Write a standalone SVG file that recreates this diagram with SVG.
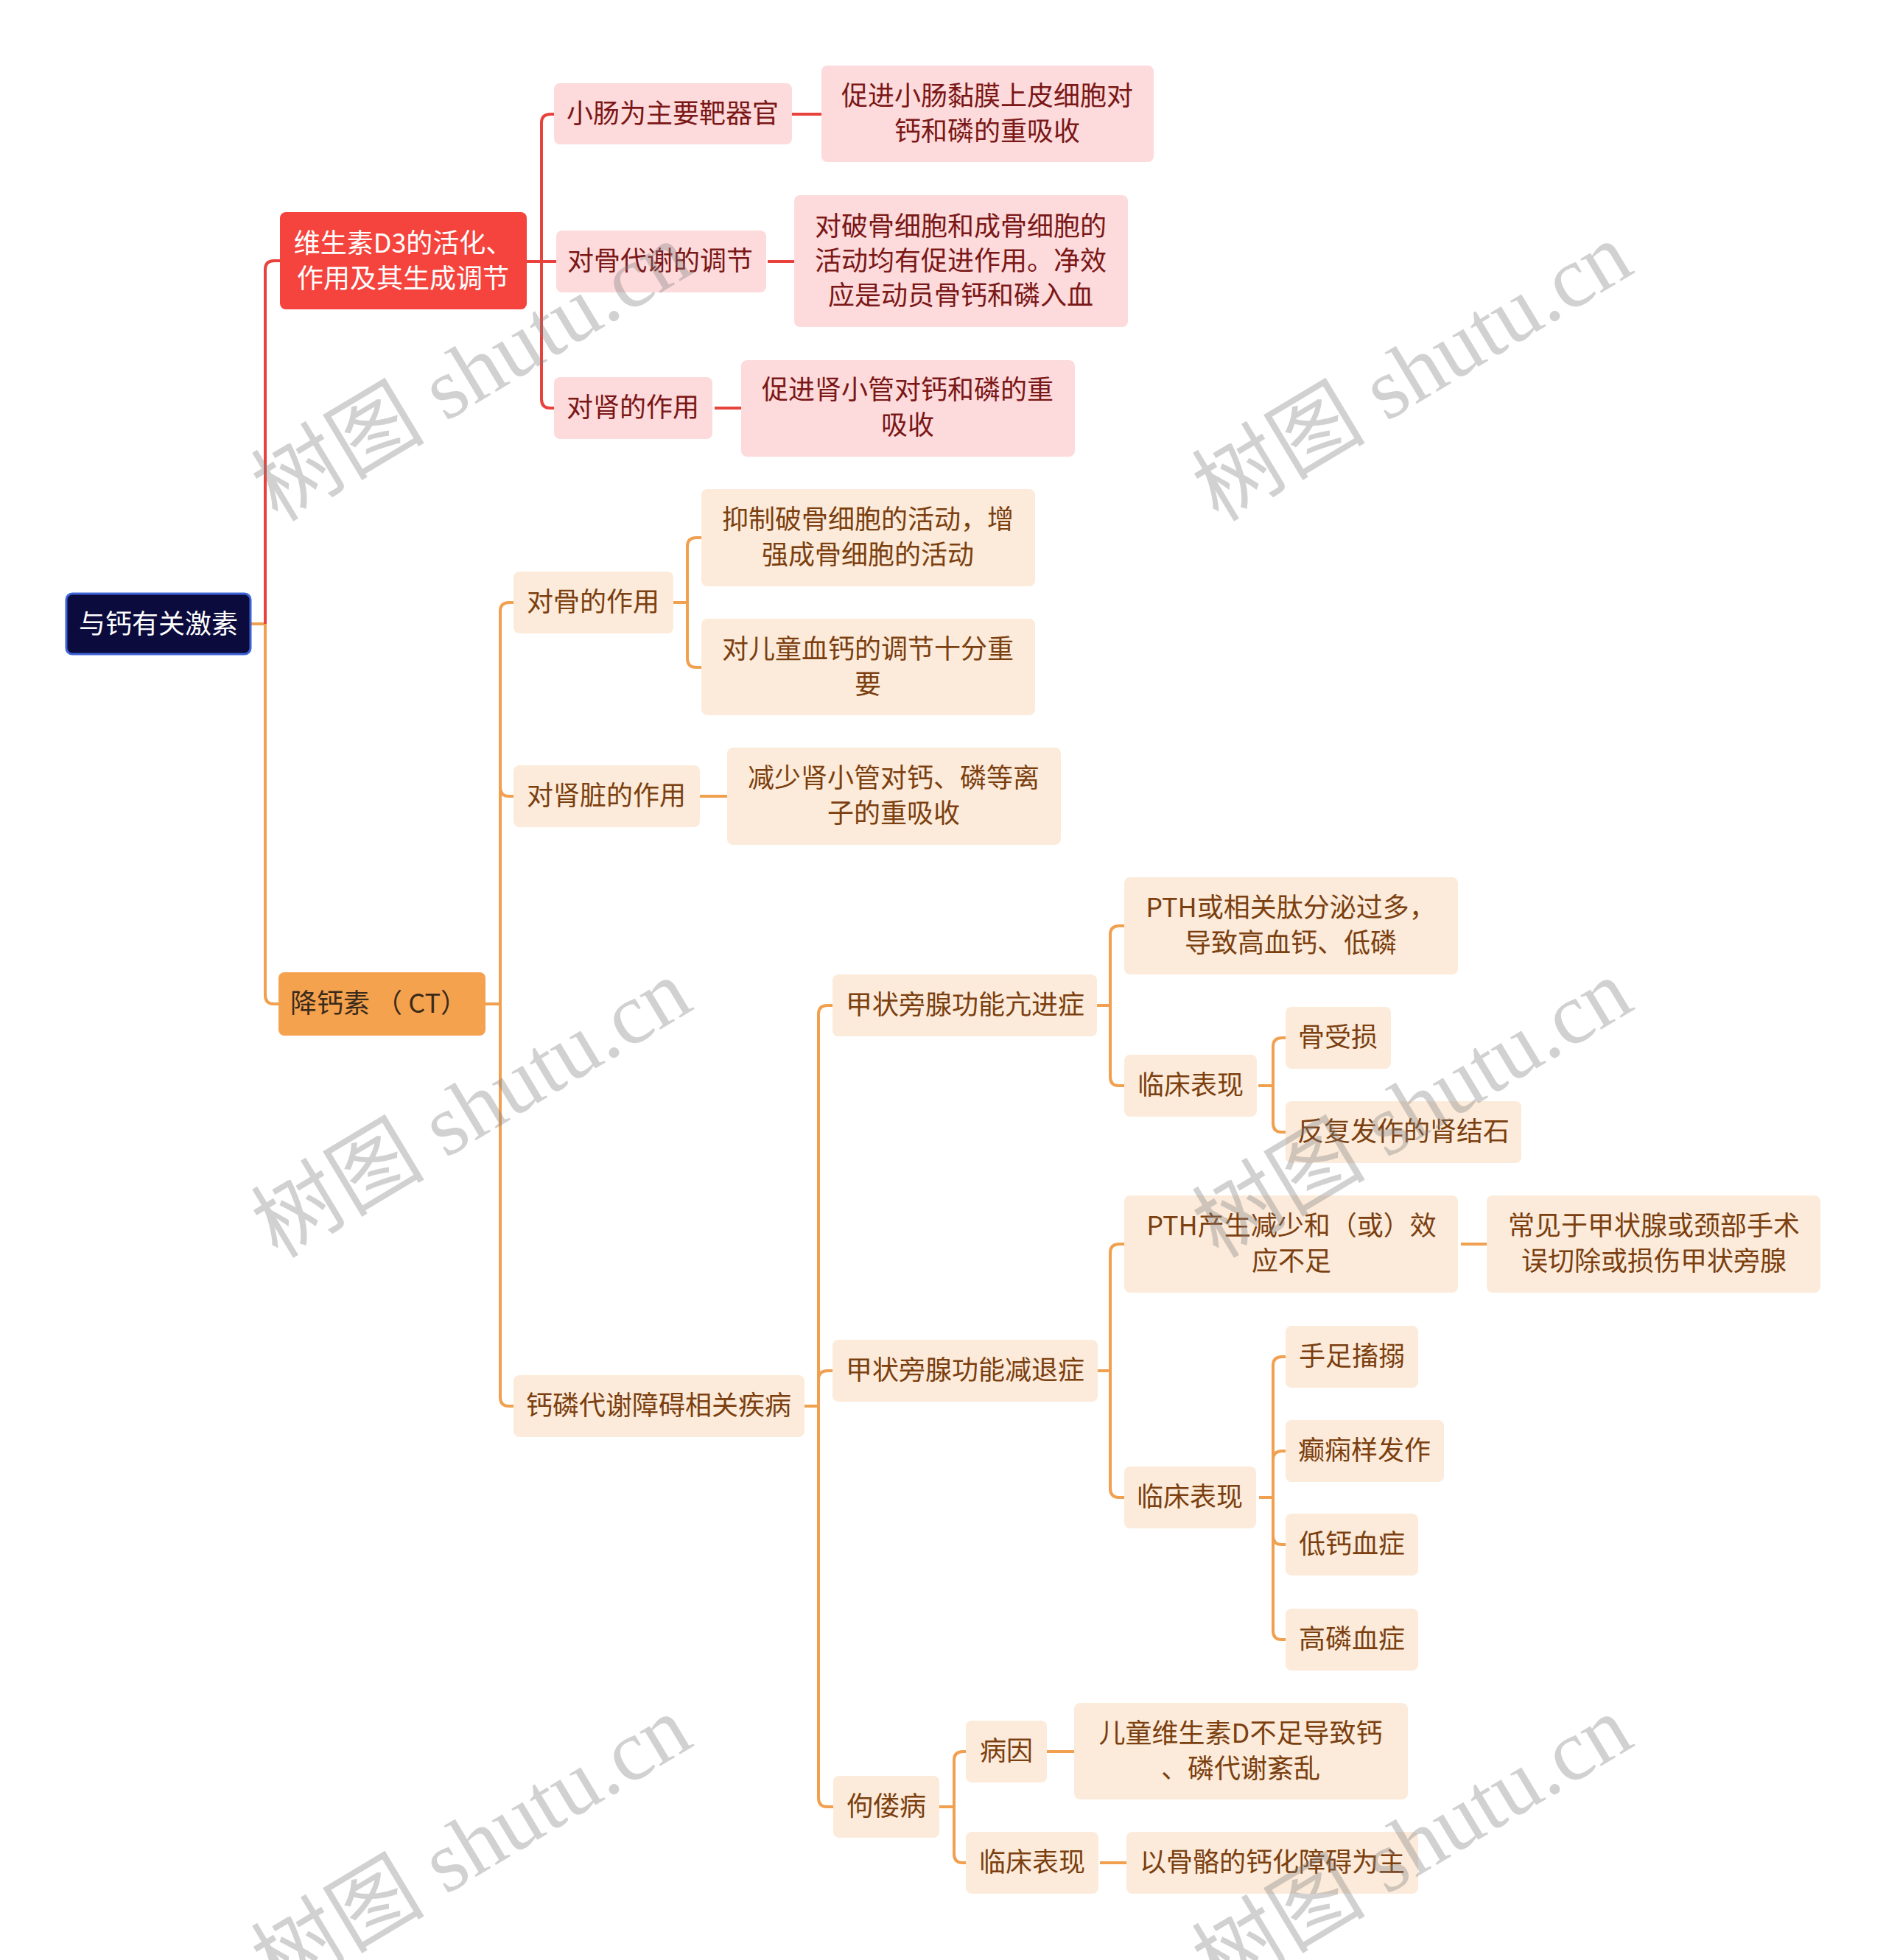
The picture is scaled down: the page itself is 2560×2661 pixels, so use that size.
<svg xmlns="http://www.w3.org/2000/svg" width="2560" height="2661" viewBox="0 0 2560 2661">
<style>
text{font-family:"Noto Sans CJK SC","Noto Sans",sans-serif;font-size:36px;text-anchor:middle}
.root rect{fill:#0b0b3d;stroke:#3d63d6;stroke-width:3}
.root text{fill:#ffffff}
.l1r rect{fill:#f5443d}
.l1r text{fill:#ffffff}
.l1o rect{fill:#f5a24f}
.l1o text{fill:#3a2a1a}
.r rect{fill:#fddadb}
.r text{fill:#7a1717}
.o rect{fill:#fcebda}
.o text{fill:#7b3f10}
.cr{fill:none;stroke:#e8423d;stroke-width:4}
.co{fill:none;stroke:#f0a04e;stroke-width:4}
.wm text{font-family:"Liberation Serif","Noto Sans CJK SC",serif;font-size:118px;fill:#808080;fill-opacity:0.36}
</style>
<rect width="2560" height="2661" fill="#ffffff"/>
<g id="connectors">
<path class="co" d="M340,847 H360 V1351 Q360,1363 372,1363 H378"/>
<path class="cr" d="M360,847 V366 Q360,354 372,354 H380"/>
<path class="cr" d="M715,355 H755"/>
<path class="cr" d="M735,355 V167 Q735,155 747,155 H752"/>
<path class="cr" d="M735,355 V542 Q735,554 747,554 H755"/>
<path class="cr" d="M1075,155 H1115"/>
<path class="cr" d="M1042,355 H1080"/>
<path class="cr" d="M970,554 H1010"/>
<path class="co" d="M659,1363 H679"/>
<path class="co" d="M679,1363 V830 Q679,818 691,818 H697"/>
<path class="co" d="M679,1363 V1069 Q679,1081 691,1081 H697"/>
<path class="co" d="M679,1363 V1897 Q679,1909 691,1909 H697"/>
<path class="co" d="M914,818 H933"/>
<path class="co" d="M933,818 V742 Q933,730 945,730 H952"/>
<path class="co" d="M933,818 V894 Q933,906 945,906 H952"/>
<path class="co" d="M950,1081 H987"/>
<path class="co" d="M1092,1909 H1111"/>
<path class="co" d="M1111,1909 V1377 Q1111,1365 1123,1365 H1130"/>
<path class="co" d="M1111,1909 V1873 Q1111,1861 1123,1861 H1130"/>
<path class="co" d="M1111,1909 V2441 Q1111,2453 1123,2453 H1131"/>
<path class="co" d="M1489,1365 H1507"/>
<path class="co" d="M1507,1365 V1269 Q1507,1257 1519,1257 H1526"/>
<path class="co" d="M1507,1365 V1462 Q1507,1474 1519,1474 H1528"/>
<path class="co" d="M1708,1474 H1728"/>
<path class="co" d="M1728,1474 V1421 Q1728,1409 1740,1409 H1747"/>
<path class="co" d="M1728,1474 V1525 Q1728,1537 1740,1537 H1747"/>
<path class="co" d="M1490,1861 H1507"/>
<path class="co" d="M1507,1861 V1701 Q1507,1689 1519,1689 H1528"/>
<path class="co" d="M1507,1861 V2021 Q1507,2033 1519,2033 H1530"/>
<path class="co" d="M1983,1689 H2022"/>
<path class="co" d="M1709,2033 H1728"/>
<path class="co" d="M1728,2033 V1854 Q1728,1842 1740,1842 H1748"/>
<path class="co" d="M1728,2033 V1982 Q1728,1970 1740,1970 H1748"/>
<path class="co" d="M1728,2033 V2085 Q1728,2097 1740,2097 H1748"/>
<path class="co" d="M1728,2033 V2214 Q1728,2226 1740,2226 H1748"/>
<path class="co" d="M1275,2453 H1295"/>
<path class="co" d="M1295,2453 V2390 Q1295,2378 1307,2378 H1313"/>
<path class="co" d="M1295,2453 V2517 Q1295,2529 1307,2529 H1313"/>
<path class="co" d="M1421,2378 H1462"/>
<path class="co" d="M1493,2529 H1533"/>
</g>
<g id="n-root" class="root"><rect x="90" y="806" width="250" height="82" rx="8"/><text x="215" y="860">与钙有关激素</text></g>
<g id="n-vd3" class="l1r"><rect x="380" y="288" width="335" height="132" rx="8"/><text x="547" y="343">维生素D3的活化、</text><text x="547" y="391">作用及其生成调节</text></g>
<g id="n-xc" class="r"><rect x="752" y="113" width="323" height="83" rx="8"/><text x="913" y="167">小肠为主要靶器官</text></g>
<g id="n-xc1" class="r"><rect x="1115" y="89" width="451" height="131" rx="8"/><text x="1340" y="143">促进小肠黏膜上皮细胞对</text><text x="1340" y="191">钙和磷的重吸收</text></g>
<g id="n-gdx" class="r"><rect x="755" y="313" width="285" height="84" rx="8"/><text x="896" y="367">对骨代谢的调节</text></g>
<g id="n-gdx1" class="r"><rect x="1078" y="265" width="453" height="179" rx="8"/><text x="1304" y="320">对破骨细胞和成骨细胞的</text><text x="1304" y="367">活动均有促进作用。净效</text><text x="1304" y="414">应是动员骨钙和磷入血</text></g>
<g id="n-ds" class="r"><rect x="752" y="512" width="215" height="84" rx="8"/><text x="859" y="566">对肾的作用</text></g>
<g id="n-ds1" class="r"><rect x="1006" y="489" width="453" height="131" rx="8"/><text x="1232" y="542">促进肾小管对钙和磷的重</text><text x="1232" y="590">吸收</text></g>
<g id="n-ct" class="l1o"><rect x="378" y="1320" width="281" height="86" rx="8"/><text x="514" y="1375" xml:space="preserve">降钙素 （ CT）</text></g>
<g id="n-dg" class="o"><rect x="697" y="776" width="217" height="84" rx="8"/><text x="805" y="830">对骨的作用</text></g>
<g id="n-dg1" class="o"><rect x="952" y="664" width="453" height="132" rx="8"/><text x="1178" y="718">抑制破骨细胞的活动，增</text><text x="1178" y="766">强成骨细胞的活动</text></g>
<g id="n-dg2" class="o"><rect x="952" y="840" width="453" height="131" rx="8"/><text x="1178" y="894">对儿童血钙的调节十分重</text><text x="1178" y="942">要</text></g>
<g id="n-dsz" class="o"><rect x="697" y="1039" width="253" height="84" rx="8"/><text x="823" y="1093">对肾脏的作用</text></g>
<g id="n-dsz1" class="o"><rect x="987" y="1015" width="453" height="132" rx="8"/><text x="1213" y="1069">减少肾小管对钙、磷等离</text><text x="1213" y="1117">子的重吸收</text></g>
<g id="n-glb" class="o"><rect x="697" y="1867" width="395" height="84" rx="8"/><text x="894" y="1921">钙磷代谢障碍相关疾病</text></g>
<g id="n-kj" class="o"><rect x="1130" y="1323" width="359" height="84" rx="8"/><text x="1310" y="1377">甲状旁腺功能亢进症</text></g>
<g id="n-kj1" class="o"><rect x="1526" y="1191" width="453" height="132" rx="8"/><text x="1752" y="1245">PTH或相关肽分泌过多，</text><text x="1752" y="1293">导致高血钙、低磷</text></g>
<g id="n-kj2" class="o"><rect x="1526" y="1432" width="180" height="84" rx="8"/><text x="1616" y="1486">临床表现</text></g>
<g id="n-kj21" class="o"><rect x="1745" y="1367" width="143" height="84" rx="8"/><text x="1816" y="1421">骨受损</text></g>
<g id="n-kj22" class="o"><rect x="1745" y="1495" width="320" height="84" rx="8"/><text x="1905" y="1549">反复发作的肾结石</text></g>
<g id="n-jt" class="o"><rect x="1130" y="1819" width="360" height="84" rx="8"/><text x="1310" y="1873">甲状旁腺功能减退症</text></g>
<g id="n-jt1" class="o"><rect x="1526" y="1623" width="453" height="132" rx="8"/><text x="1753" y="1677">PTH产生减少和（或）效</text><text x="1753" y="1725">应不足</text></g>
<g id="n-jt11" class="o"><rect x="2018" y="1623" width="453" height="132" rx="8"/><text x="2245" y="1677">常见于甲状腺或颈部手术</text><text x="2245" y="1725">误切除或损伤甲状旁腺</text></g>
<g id="n-jt2" class="o"><rect x="1526" y="1991" width="179" height="84" rx="8"/><text x="1615" y="2045">临床表现</text></g>
<g id="n-jt21" class="o"><rect x="1745" y="1800" width="180" height="84" rx="8"/><text x="1835" y="1854">手足搐搦</text></g>
<g id="n-jt22" class="o"><rect x="1745" y="1928" width="215" height="84" rx="8"/><text x="1852" y="1982">癫痫样发作</text></g>
<g id="n-jt23" class="o"><rect x="1745" y="2055" width="180" height="84" rx="8"/><text x="1835" y="2109">低钙血症</text></g>
<g id="n-jt24" class="o"><rect x="1745" y="2184" width="180" height="84" rx="8"/><text x="1835" y="2238">高磷血症</text></g>
<g id="n-glb3" class="o"><rect x="1131" y="2411" width="144" height="84" rx="8"/><text x="1203" y="2465">佝偻病</text></g>
<g id="n-by" class="o"><rect x="1311" y="2336" width="110" height="84" rx="8"/><text x="1366" y="2390">病因</text></g>
<g id="n-by1" class="o"><rect x="1458" y="2312" width="453" height="131" rx="8"/><text x="1684" y="2366">儿童维生素D不足导致钙</text><text x="1684" y="2414">、磷代谢紊乱</text></g>
<g id="n-lc3" class="o"><rect x="1311" y="2487" width="180" height="84" rx="8"/><text x="1401" y="2541">临床表现</text></g>
<g id="n-lc31" class="o"><rect x="1529" y="2487" width="396" height="84" rx="8"/><text x="1727" y="2541">以骨骼的钙化障碍为主</text></g>
<g id="watermarks" class="wm">
<text transform="translate(640,505) rotate(-31)" y="40">树图 shutu.cn</text>
<text transform="translate(1917,505) rotate(-31)" y="40">树图 shutu.cn</text>
<text transform="translate(640,1505) rotate(-31)" y="40">树图 shutu.cn</text>
<text transform="translate(1917,1505) rotate(-31)" y="40">树图 shutu.cn</text>
<text transform="translate(640,2505) rotate(-31)" y="40">树图 shutu.cn</text>
<text transform="translate(1917,2505) rotate(-31)" y="40">树图 shutu.cn</text>
</g>
</svg>
